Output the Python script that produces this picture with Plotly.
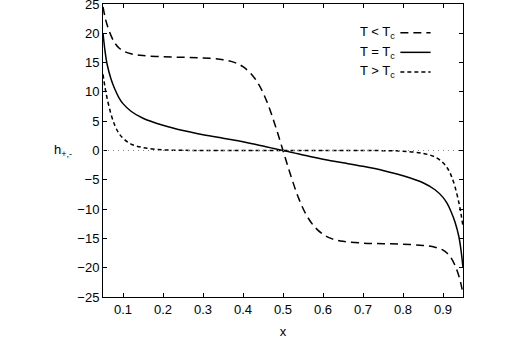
import plotly.graph_objects as go

# sample positions along x
x = [0.05, 0.055, 0.06, 0.07, 0.08, 0.09, 0.1, 0.12, 0.15, 0.2, 0.25, 0.3, 0.35,
     0.38, 0.4, 0.42, 0.44, 0.46, 0.48, 0.5, 0.52, 0.54, 0.56, 0.58, 0.6, 0.62,
     0.65, 0.7, 0.75, 0.8, 0.85, 0.88, 0.9, 0.91, 0.92, 0.93, 0.94, 0.945, 0.95]

# T < Tc
h_below = [24.5, 22.8, 21.5, 19.6, 18.3, 17.5, 17.0, 16.5, 16.2, 16.0, 15.9, 15.8, 15.5,
           15.0, 14.3, 13.1, 11.2, 8.3, 4.4, 0.0, -4.4, -8.3, -11.2, -13.1, -14.3, -15.0,
           -15.5, -15.8, -15.9, -16.0, -16.2, -16.5, -17.0, -17.5, -18.3, -19.6, -21.5, -22.8, -24.5]

# T = Tc
h_crit = [20.0, 17.0, 14.8, 12.2, 10.4, 9.0, 8.0, 6.7, 5.5, 4.3, 3.4, 2.7, 2.1,
          1.75, 1.5, 1.2, 0.9, 0.6, 0.3, 0.0, -0.3, -0.6, -0.9, -1.2, -1.5, -1.75,
          -2.1, -2.7, -3.4, -4.3, -5.5, -6.7, -8.0, -9.0, -10.4, -12.2, -14.8, -17.0, -20.0]

# T > Tc
h_above = [13.0, 10.8, 9.0, 6.2, 4.2, 2.9, 2.1, 1.1, 0.5, 0.12, 0.03, 0.0, 0.0,
           0.0, 0.0, 0.0, 0.0, 0.0, 0.0, 0.0, 0.0, 0.0, 0.0, 0.0, 0.0, 0.0,
           0.0, 0.0, -0.03, -0.12, -0.5, -1.1, -2.1, -2.9, -4.2, -6.2, -9.0, -10.8, -13.0]

series = [
    ("T < T<sub>c</sub>", h_below, "8px,5px"),
    ("T = T<sub>c</sub>", h_crit, "solid"),
    ("T > T<sub>c</sub>", h_above, "4px,3px"),
]

FONT = "Liberation Sans, Arial, sans-serif"

fig = go.Figure()

# zero reference line
fig.add_hline(y=0, line=dict(color="#888888", width=1, dash="1px,4px"))

for name, y, dash in series:
    fig.add_trace(go.Scatter(x=x, y=y, mode="lines", name=name,
                             line=dict(color="black", width=1.5, dash=dash, shape="spline"),
                             showlegend=False))

# gnuplot-style key: text on the left, line sample on the right
key_rows = [0.902, 0.835, 0.768]
for (name, y, dash), ky in zip(series, key_rows):
    fig.add_annotation(x=0.818, y=ky, xref="paper", yref="paper", text=name,
                       showarrow=False, xanchor="right", yanchor="middle",
                       font=dict(size=13, color="black", family=FONT))
    fig.add_shape(type="line", xref="paper", yref="paper",
                  x0=0.826, x1=0.91, y0=ky, y1=ky,
                  line=dict(color="black", width=1.5, dash=dash))

# y label, horizontal like gnuplot
fig.add_annotation(x=-0.08, y=0.5, xref="paper", yref="paper", text="h<sub>+,-</sub>",
                   showarrow=False, xanchor="right", yanchor="middle",
                   font=dict(size=13, color="black", family=FONT))

axis_style = dict(showline=True, linecolor="black", linewidth=1, mirror="allticks",
                  ticks="inside", ticklen=4, tickcolor="black", showgrid=False,
                  zeroline=False, automargin=False, ticklabeloverflow="allow",
                  tickfont=dict(size=13, color="black", family=FONT))

fig.update_xaxes(range=[0.05, 0.95], tick0=0.1, dtick=0.1,
                 title=dict(text="x", font=dict(size=13, color="black", family=FONT), standoff=11),
                 **axis_style)
fig.update_yaxes(range=[-25, 25], dtick=5, **axis_style)

fig.update_layout(
    width=528, height=347,
    margin=dict(l=103, r=65, t=4, b=50),
    plot_bgcolor="white", paper_bgcolor="white",
    font=dict(family=FONT, color="black"),
)

# drop the page's default body margin so the figure sits at the top-left corner
fig.write_html("out.html", config={"displayModeBar": False},
               post_script="document.body.style.margin='0';")
